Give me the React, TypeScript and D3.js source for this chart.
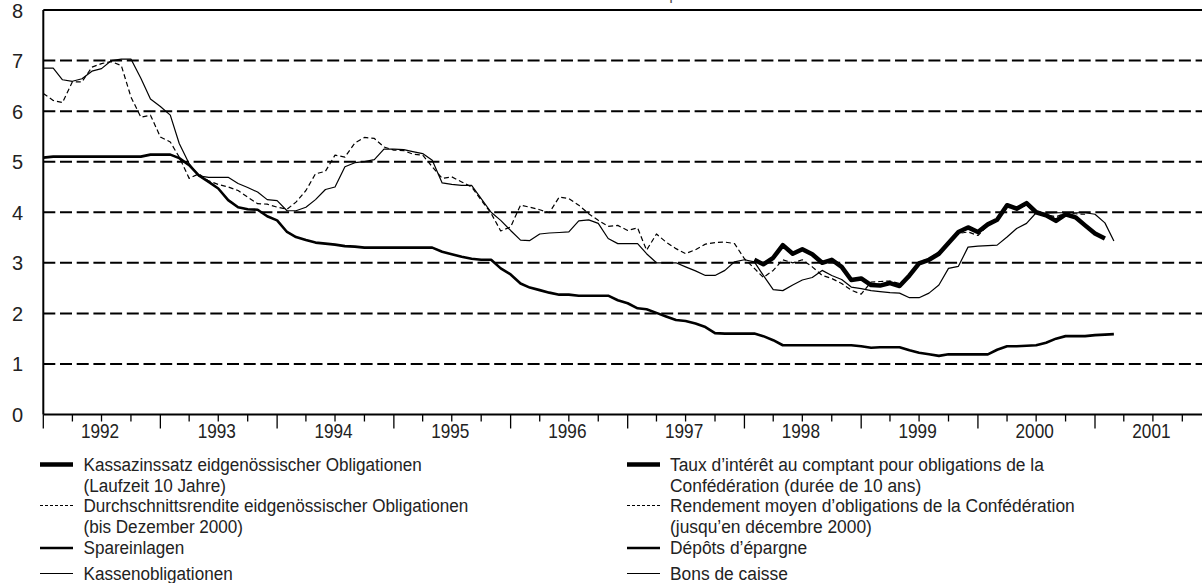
import React from "react";
import * as d3 from "d3";

// ---- data (monthly, Jan 1992 = month index 0) ----
const kassaStart = "1998-02";
const kassaValues = [3.06, 2.97, 3.10, 3.35, 3.18, 3.27, 3.17, 3.00, 3.06, 2.92, 2.66, 2.69, 2.56, 2.55, 2.60, 2.54, 2.75, 2.99, 3.06, 3.18, 3.39, 3.61, 3.70, 3.61, 3.76, 3.85, 4.14, 4.07, 4.18, 4.00, 3.94, 3.83, 3.96, 3.90, 3.74, 3.58, 3.48];

const renditeStart = "1992-01";
const renditeValues = [6.35, 6.21, 6.17, 6.58, 6.58, 6.87, 6.94, 6.98, 6.90, 6.28, 5.88, 5.92, 5.49, 5.39, 5.09, 4.67, 4.76, 4.62, 4.55, 4.50, 4.43, 4.30, 4.17, 4.16, 4.10, 4.06, 4.20, 4.43, 4.76, 4.81, 5.13, 5.09, 5.37, 5.48, 5.46, 5.29, 5.23, 5.22, 5.15, 5.13, 4.90, 4.67, 4.70, 4.60, 4.50, 4.24, 3.98, 3.63, 3.71, 4.14, 4.10, 4.05, 3.99, 4.30, 4.27, 4.14, 3.97, 3.84, 3.72, 3.74, 3.64, 3.69, 3.25, 3.57, 3.41, 3.28, 3.18, 3.26, 3.37, 3.40, 3.41, 3.38, 3.08, 2.89, 2.71, 2.85, 3.06, 3.00, 3.06, 2.92, 2.75, 2.69, 2.59, 2.46, 2.38, 2.62, 2.63, 2.64, 2.59, 2.71, 3.02, 3.08, 3.22, 3.40, 3.58, 3.61, 3.54, 3.74, 3.84, 4.10, 4.07, 4.14, 4.00, 3.95, 3.91, 3.98, 3.97, 3.96];

const spareStart = "1992-01";
const spareValues = [5.08, 5.10, 5.10, 5.10, 5.10, 5.10, 5.10, 5.10, 5.10, 5.10, 5.10, 5.14, 5.14, 5.14, 5.07, 4.93, 4.73, 4.60, 4.47, 4.24, 4.10, 4.06, 4.05, 3.92, 3.84, 3.61, 3.51, 3.45, 3.40, 3.38, 3.36, 3.33, 3.32, 3.30, 3.30, 3.30, 3.30, 3.30, 3.30, 3.30, 3.30, 3.22, 3.17, 3.12, 3.08, 3.06, 3.06, 2.89, 2.77, 2.59, 2.51, 2.46, 2.41, 2.37, 2.37, 2.35, 2.35, 2.35, 2.35, 2.26, 2.20, 2.10, 2.08, 2.01, 1.94, 1.87, 1.85, 1.80, 1.73, 1.61, 1.60, 1.60, 1.60, 1.60, 1.55, 1.47, 1.37, 1.37, 1.37, 1.37, 1.37, 1.37, 1.37, 1.37, 1.35, 1.32, 1.33, 1.33, 1.33, 1.27, 1.22, 1.19, 1.16, 1.19, 1.19, 1.19, 1.19, 1.19, 1.28, 1.35, 1.35, 1.36, 1.37, 1.42, 1.50, 1.55, 1.55, 1.55, 1.57, 1.58, 1.59];

const kassenStart = "1992-01";
const kassenValues = [6.85, 6.85, 6.62, 6.59, 6.64, 6.79, 6.84, 7.00, 7.03, 7.03, 6.65, 6.24, 6.09, 5.92, 5.36, 4.96, 4.72, 4.69, 4.69, 4.69, 4.57, 4.49, 4.40, 4.25, 4.23, 4.03, 4.03, 4.10, 4.25, 4.45, 4.50, 4.90, 4.98, 5.00, 5.04, 5.25, 5.25, 5.24, 5.20, 5.16, 5.03, 4.58, 4.55, 4.53, 4.53, 4.27, 4.00, 3.84, 3.64, 3.45, 3.44, 3.57, 3.59, 3.60, 3.61, 3.83, 3.85, 3.78, 3.48, 3.38, 3.38, 3.38, 3.18, 3.00, 3.00, 3.00, 2.92, 2.84, 2.75, 2.75, 2.85, 3.02, 3.06, 3.02, 2.75, 2.47, 2.45, 2.56, 2.66, 2.71, 2.85, 2.75, 2.67, 2.52, 2.49, 2.45, 2.43, 2.41, 2.40, 2.31, 2.31, 2.40, 2.56, 2.89, 2.93, 3.31, 3.33, 3.34, 3.35, 3.51, 3.68, 3.78, 3.99, 3.98, 3.99, 3.99, 3.99, 3.99, 3.96, 3.79, 3.43];

const yTicks = [0, 1, 2, 3, 4, 5, 6, 7, 8];
const gridValues = [1, 2, 3, 4, 5, 6, 7];
const yearLabels = ["1992", "1993", "1994", "1995", "1996", "1997", "1998", "1999", "2000", "2001"];

const legendLeft = [
  { lines: ["Kassazinssatz eidgenössischer Obligationen", "(Laufzeit 10 Jahre)"], key: "kassa" },
  { lines: ["Durchschnittsrendite eidgenössischer Obligationen", "(bis Dezember 2000)"], key: "rendite" },
  { lines: ["Spareinlagen"], key: "spare" },
  { lines: ["Kassenobligationen"], key: "kassen" },
];
const legendRight = [
  { lines: ["Taux d’intérêt au comptant pour obligations de la", "Confédération (durée de 10 ans)"], key: "kassa" },
  { lines: ["Rendement moyen d’obligations de la Confédération", "(jusqu’en décembre 2000)"], key: "rendite" },
  { lines: ["Dépôts d’épargne"], key: "spare" },
  { lines: ["Bons de caisse"], key: "kassen" },
];

const unitLabel = "pour cent";

// ---- styles ----
const styles: Record<string, { w: number; dash?: string }> = {
  kassa: { w: 4.5 },
  rendite: { w: 1.2, dash: "5,3" },
  spare: { w: 2.6 },
  kassen: { w: 1.2 },
};

const W = 1202;
const H = 583;
const FONT = "'Liberation Sans', Arial, sans-serif";

const parseMonth = d3.utcParse("%Y-%m");

function toPoints(start: string, values: number[]) {
  const s = parseMonth(start)!;
  return values.map((v, i) => ({ date: d3.utcMonth.offset(s, i), value: v }));
}

export default function App() {
  const x = d3
    .scaleUtc()
    .domain([new Date(Date.UTC(1992, 0, 1)), new Date(Date.UTC(2001, 0, 1))])
    .range([43.3, 1095]);
  const y = d3.scaleLinear().domain([0, 8]).range([414.5, 10]);

  const line = d3
    .line<{ date: Date; value: number }>()
    .x((d) => x(d.date))
    .y((d) => y(d.value))
    .curve(d3.curveLinear);

  const series = [
    { key: "kassen", pts: toPoints(kassenStart, kassenValues) },
    { key: "rendite", pts: toPoints(renditeStart, renditeValues) },
    { key: "spare", pts: toPoints(spareStart, spareValues) },
    { key: "kassa", pts: toPoints(kassaStart, kassaValues) },
  ];

  const x0 = x.range()[0];
  const xEnd = x(new Date(Date.UTC(2002, 0, 1)));
  const yBottom = y(0);
  const yTop = y(8);

  const yearStarts = d3.utcYears(new Date(Date.UTC(1992, 0, 1)), new Date(Date.UTC(2002, 0, 2)));
  const quarterTicks = d3
    .utcMonths(new Date(Date.UTC(1992, 0, 1)), new Date(Date.UTC(2002, 0, 1)), 3)
    .filter((d) => d.getUTCMonth() !== 0);

  const renderLegend = (items: typeof legendLeft, sx: number, tx: number, sc: number) => {
    const rowY = [464.5, 505.5, 548, 573.5];
    return items.map((it, i) => {
      const st = styles[it.key];
      return (
        <g key={it.key}>
          <line
            x1={sx}
            x2={sx + 33}
            y1={rowY[i]}
            y2={rowY[i]}
            stroke="#000"
            strokeWidth={st.w}
            strokeDasharray={st.dash ? "3,2" : undefined}
          />
          {it.lines.map((t, j) => (
            <text
              key={j}
              transform={`translate(${tx},${rowY[i] + 6 + j * 21}) scale(${sc},1)`}
              fontSize={19}
              fill="#222"
              fontFamily={FONT}
            >
              {t}
            </text>
          ))}
        </g>
      );
    });
  };

  return (
    <svg
      width={W}
      height={H}
      style={{ position: "fixed", left: 0, top: 0, display: "block", background: "#fff" }}
    >
      <rect x={0} y={0} width={W} height={H} fill="#fff" />
      <text
        transform={`translate(703,-1) scale(0.9,1)`}
        textAnchor="middle"
        fontSize={18}
        fill="#555"
        fontFamily={FONT}
      >
        {unitLabel}
      </text>

      {/* grid */}
      {gridValues.map((v) => (
        <line
          key={v}
          x1={x0}
          x2={xEnd}
          y1={y(v)}
          y2={y(v)}
          stroke="#000"
          strokeWidth={2}
          strokeDasharray="12,4.7"
        />
      ))}

      {/* series */}
      {series.map((s) => {
        const st = styles[s.key];
        return (
          <path
            key={s.key}
            d={line(s.pts) || ""}
            fill="none"
            stroke="#000"
            strokeWidth={st.w}
            strokeDasharray={st.dash}
            strokeLinejoin="round"
          />
        );
      })}

      {/* frame */}
      <line x1={x0} x2={xEnd} y1={yTop} y2={yTop} stroke="#000" strokeWidth={2} />
      <line x1={x0} x2={x0} y1={yTop} y2={yBottom} stroke="#000" strokeWidth={2} />
      <line x1={x0} x2={xEnd} y1={yBottom} y2={yBottom} stroke="#000" strokeWidth={2} />

      {/* y labels */}
      {yTicks.map((v) => (
        <text key={v} x={23} y={y(v) + 7.5} textAnchor="end" fontSize={20} fill="#222" fontFamily={FONT}>
          {v}
        </text>
      ))}

      {/* x ticks */}
      {yearStarts.map((d, i) => (
        <line key={"Y" + i} x1={x(d)} x2={x(d)} y1={yBottom} y2={yBottom + 14} stroke="#000" strokeWidth={1.3} />
      ))}
      {quarterTicks.map((d, i) => (
        <line key={"Q" + i} x1={x(d)} x2={x(d)} y1={yBottom} y2={yBottom + 7} stroke="#000" strokeWidth={1.3} />
      ))}
      {yearLabels.map((lab, i) => {
        const mid = new Date(Date.UTC(1992 + i, 6, 1));
        return (
          <text
            key={lab}
            transform={`translate(${x(mid) - 1.5},438) scale(0.86,1)`}
            textAnchor="middle"
            fontSize={20}
            fill="#222"
            fontFamily={FONT}
          >
            {lab}
          </text>
        );
      })}

      {/* legend */}
      {renderLegend(legendLeft, 40, 83.5, 0.9)}
      {renderLegend(legendRight, 627, 670, 0.915)}
    </svg>
  );
}
